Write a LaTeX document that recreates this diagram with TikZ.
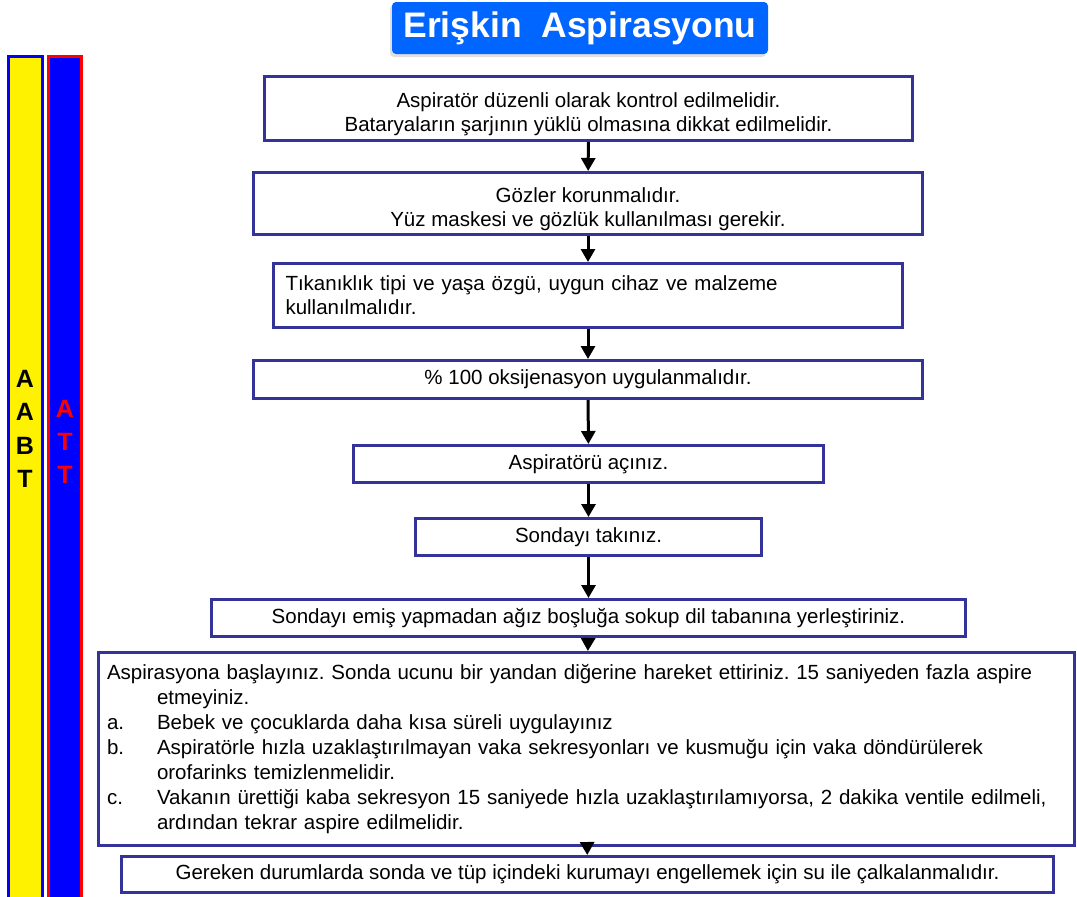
\documentclass[tikz,border=0pt]{standalone}
\usepackage{fontspec}
\setmainfont{Liberation Sans}
\usetikzlibrary{arrows.meta}
\usetikzlibrary{shadows}
\frenchspacing
\definecolor{boxblue}{HTML}{333399}
\definecolor{titleblue}{HTML}{0066FF}
\newcommand{\topstrut}{\rule{0pt}{26pt}}
\tikzstyle{stage}=[draw=boxblue, line width=3pt, fill=white, inner sep=0pt, align=center, font=\fontsize{20.5}{24}\selectfont]
\tikzstyle{lstage}=[stage, align=left, inner xsep=12pt]
\tikzstyle{flow}=[line width=3pt, -{Triangle[length=13pt, width=14pt]}]
\tikzstyle{crew}=[font=\bfseries\fontsize{25}{33.3}\selectfont, align=center, inner sep=0pt]

\begin{document}
\begin{tikzpicture}[x=1pt, y=-1pt]
        \useasboundingbox (0, 0) rectangle (1077, 897);
        % title
        \node[fill=titleblue, rounded corners=4pt, minimum width=376pt, minimum height=52pt,
              text=white, font=\bfseries\fontsize{35.5}{40}\selectfont,
              drop shadow={fill=black!25, opacity=0.5, shadow xshift=-2pt, shadow yshift=-3pt}] (title) at (580, 28) {\raisebox{-3pt}{Erişkin\ \ Aspirasyonu}};
        % side bars
        \draw[draw=blue, fill=yellow, line width=3pt] (8.5, 56.5) rectangle (42.5, 910);
        \draw[draw=red, fill=blue, line width=3pt] (48.5, 56.5) rectangle (81.5, 910);
        \node[crew] (abt) at (25, 429) {A\\A\\B\\T};
        \node[crew, text=red] (att) at (65, 442) {A\\T\\T};
        % steps
        \node[stage, minimum width=648pt, minimum height=64pt] (check) at (588.5, 108.5) {\topstrut Aspiratör düzenli olarak kontrol edilmelidir.\\Bataryaların şarjının yüklü olmasına dikkat edilmelidir.};
        \node[stage, minimum width=669pt, minimum height=62pt] (eyes) at (588, 203.5) {\topstrut Gözler korunmalıdır.\\Yüz maskesi ve gözlük kullanılması gerekir.};
        \node[lstage, text width=605pt, minimum height=64pt] (device) at (588, 295.5) {Tıkanıklık tipi ve yaşa özgü, uygun cihaz ve malzeme\\kullanılmalıdır.};
        \node[stage, minimum width=669pt, minimum height=38pt] (oxygen) at (588, 379.5) {\% 100 oksijenasyon uygulanmalıdır.};
        \node[stage, minimum width=470pt, minimum height=37pt] (open) at (588.5, 464) {Aspiratörü açınız.};
        \node[stage, minimum width=346pt, minimum height=37pt] (probe) at (588.5, 537) {Sondayı takınız.};
        \node[stage, minimum width=754pt, minimum height=37pt] (insert) at (588.5, 618) {Sondayı emiş yapmadan ağız boşluğa sokup dil tabanına yerleştiriniz.};
        \node[stage, align=left, inner xsep=9pt, text width=958pt, minimum height=193pt,
              font=\fontsize{20.5}{25}\selectfont] (suction) at (586, 749) {Aspirasyona başlayınız. Sonda ucunu bir yandan diğerine hareket ettiriniz. 15 saniyeden fazla aspire\\
            \hspace*{50pt}etmeyiniz.\\
            \makebox[50pt][l]{a.}Bebek ve çocuklarda daha kısa süreli uygulayınız\\
            \makebox[50pt][l]{b.}Aspiratörle hızla uzaklaştırılmayan vaka sekresyonları ve kusmuğu için vaka döndürülerek\\
            \hspace*{50pt}orofarinks temizlenmelidir.\\
            \makebox[50pt][l]{c.}Vakanın ürettiği kaba sekresyon 15 saniyede hızla uzaklaştırılamıyorsa, 2 dakika ventile edilmeli,\\
            \hspace*{50pt}ardından tekrar aspire edilmelidir.};
        \node[stage, minimum width=932pt, minimum height=36pt] (rinse) at (587.5, 874.5) {Gereken durumlarda sonda ve tüp içindeki kurumayı engellemek için su ile çalkalanmalıdır.};
        % arrows
        \draw[flow] (check) -- (eyes);
        \draw[flow] (eyes) -- (device);
        \draw[flow] (device) -- (oxygen);
        \draw[flow] (oxygen) -- (open);
        \draw[flow] (open) -- (probe);
        \draw[flow] (probe) -- (insert);
        \draw[flow] (insert) -- (suction);
        \draw[flow] (suction) -- (rinse);
    \end{tikzpicture}
\end{document}
